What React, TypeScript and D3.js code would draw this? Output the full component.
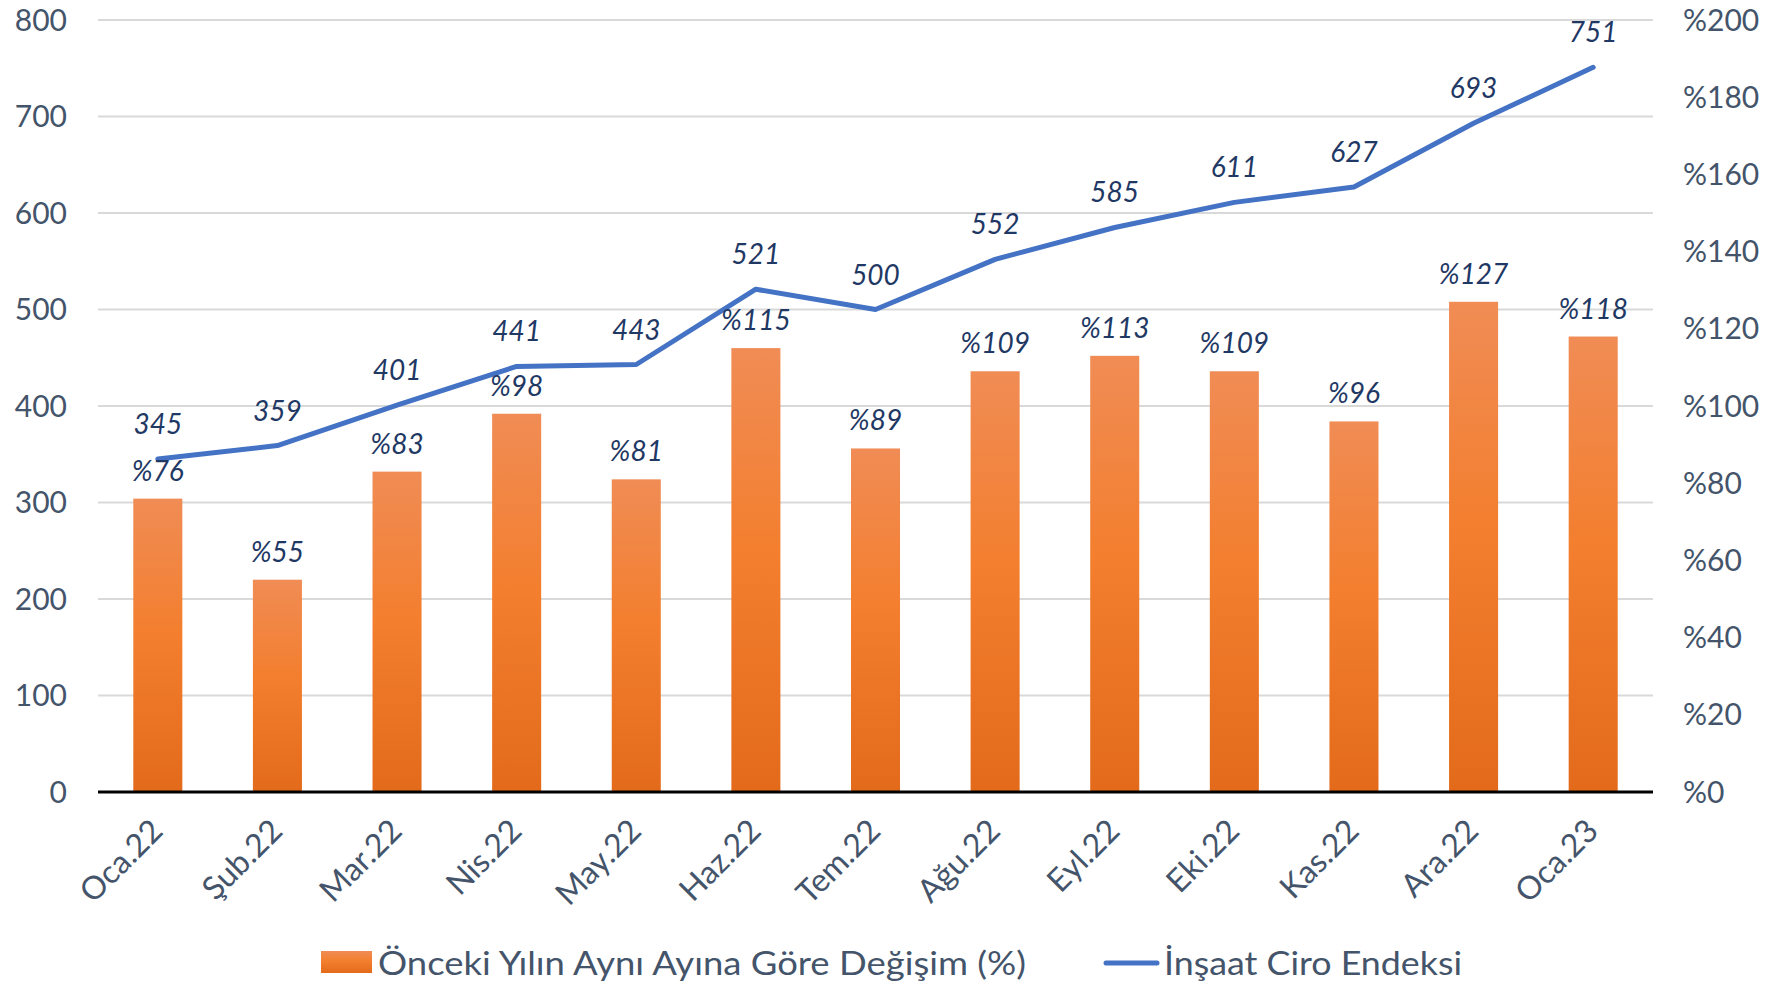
import React from 'react';
import * as d3 from 'd3';

const months = ['Oca.22', 'Şub.22', 'Mar.22', 'Nis.22', 'May.22', 'Haz.22', 'Tem.22', 'Ağu.22', 'Eyl.22', 'Eki.22', 'Kas.22', 'Ara.22', 'Oca.23'];
const changePct = [76, 55, 83, 98, 81, 115, 89, 109, 113, 109, 96, 127, 118];
const ciroIndex = [345, 359, 401, 441, 443, 521, 500, 552, 585, 611, 627, 693, 751];
const leftTicks = [0, 100, 200, 300, 400, 500, 600, 700, 800];
const rightTicks = [0, 20, 40, 60, 80, 100, 120, 140, 160, 180, 200];

const W = 1767;
const H = 985;
const margin = { top: 20, right: 114, bottom: 193, left: 98 };
const FONT = 'Lato, "Open Sans", sans-serif';
const AXIS_COLOR = '#44546A';
const LABEL_COLOR = '#1F3864';

const App = () => {
  const x = d3.scaleBand<string>()
    .domain(months)
    .range([margin.left, W - margin.right])
    .paddingInner(0.59)
    .paddingOuter(0.295);

  const yLeft = d3.scaleLinear().domain([0, 800]).range([H - margin.bottom, margin.top]);
  const yRight = d3.scaleLinear().domain([0, 200]).range([H - margin.bottom, margin.top]);

  const cx = (m: string) => (x(m) ?? 0) + x.bandwidth() / 2;

  const line = d3.line<number>()
    .x((d, i) => cx(months[i]))
    .y(d => yLeft(d));

  const baseY = H - margin.bottom;

  return (
    <svg width={W} height={H} style={{ position: 'absolute', left: 0, top: 0, background: '#fff' }} fontFamily={FONT}>
      <defs>
        <linearGradient id="barGrad" x1="0" y1="0" x2="0" y2="1">
          <stop offset="0%" stopColor="#F08C55" />
          <stop offset="45%" stopColor="#F37F2F" />
          <stop offset="100%" stopColor="#E36A1B" />
        </linearGradient>
      </defs>

      {/* grid */}
      {leftTicks.filter(t => t > 0).map(t => (
        <line key={t} x1={margin.left} x2={W - margin.right} y1={yLeft(t)} y2={yLeft(t)} stroke="#D9D9D9" strokeWidth={2} />
      ))}

      {/* left axis labels */}
      {leftTicks.map(t => (
        <text key={t} x={67} y={yLeft(t)} dy="0.35em" textAnchor="end" fontSize={30} fill={AXIS_COLOR}>{t}</text>
      ))}

      {/* right axis labels */}
      {rightTicks.map(t => (
        <text key={t} x={1683} y={yRight(t)} dy="0.35em" textAnchor="start" fontSize={30} fill={AXIS_COLOR}>%{t}</text>
      ))}

      {/* bars */}
      {changePct.map((v, i) => (
        <rect key={months[i]} x={x(months[i])} y={yRight(v)} width={x.bandwidth()} height={baseY - yRight(v)} fill="url(#barGrad)" />
      ))}

      {/* x axis */}
      <line x1={margin.left} x2={W - margin.right} y1={baseY} y2={baseY} stroke="#000" strokeWidth={3} />

      {/* x labels */}
      {months.map(m => (
        <text key={m} transform={`translate(${cx(m) - 1},${baseY + 33}) rotate(-45)`} textAnchor="end" dy="0.35em" fontSize={32} fill={AXIS_COLOR}>{m}</text>
      ))}

      {/* line */}
      <path d={line(ciroIndex) ?? ''} fill="none" stroke="#4472C4" strokeWidth={5} strokeLinejoin="round" strokeLinecap="round" />

      {/* bar labels */}
      {changePct.map((v, i) => (
        <text key={months[i]} x={cx(months[i])} y={yRight(v) - 18} textAnchor="middle" fontSize={28} fontStyle="italic" fill={LABEL_COLOR}>%{v}</text>
      ))}

      {/* line labels */}
      {ciroIndex.map((v, i) => (
        <text key={months[i]} x={cx(months[i])} y={yLeft(v) - 25} textAnchor="middle" fontSize={28} fontStyle="italic" fill={LABEL_COLOR}>{v}</text>
      ))}

      {/* legend */}
      <g>
        <rect x={321} y={951} width={51} height={22} fill="url(#barGrad)" />
        <text x={378} y={963} dy="0.35em" fontSize={33} textLength={648} lengthAdjust="spacingAndGlyphs" fill={AXIS_COLOR}>Önceki Yılın Aynı Ayına Göre Değişim (%)</text>
        <line x1={1106} x2={1157} y1={963} y2={963} stroke="#4472C4" strokeWidth={5} strokeLinecap="round" />
        <text x={1164} y={963} dy="0.35em" fontSize={33} textLength={298} lengthAdjust="spacingAndGlyphs" fill={AXIS_COLOR}>İnşaat Ciro Endeksi</text>
      </g>
    </svg>
  );
};

export default App;
